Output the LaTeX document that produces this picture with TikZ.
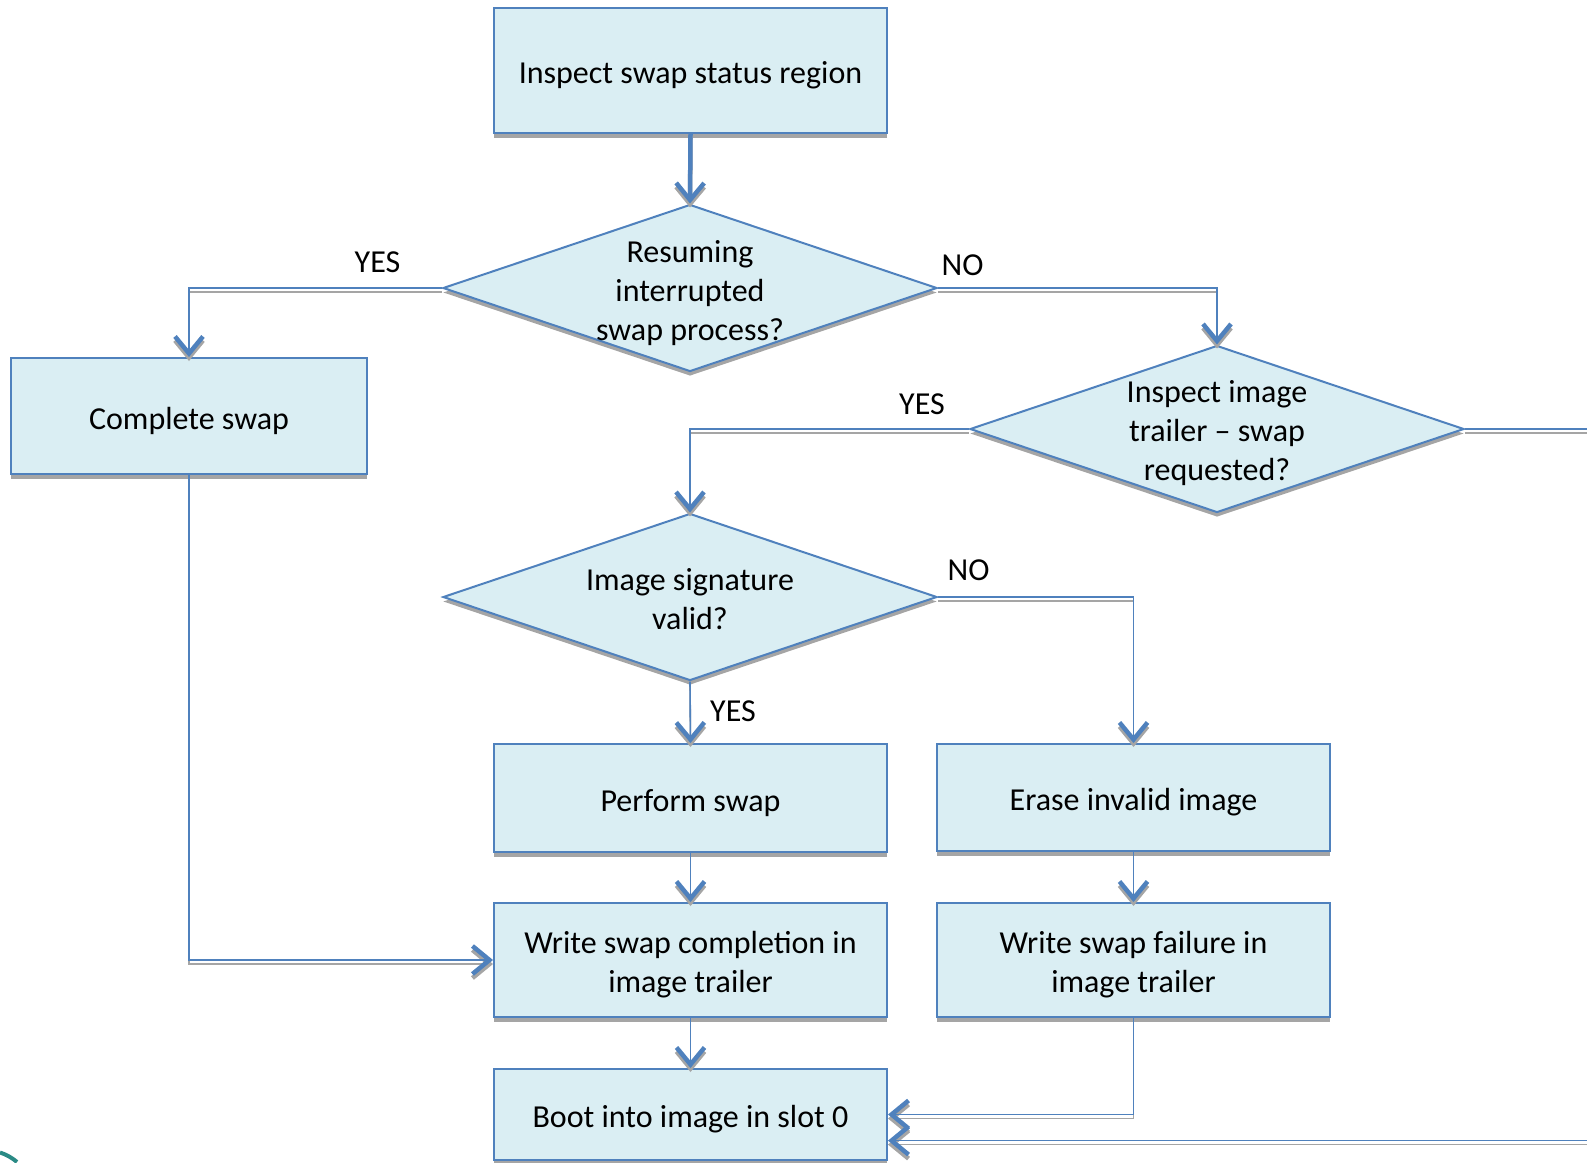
\documentclass[tikz,border=0pt]{standalone}
\usepackage{fontspec}
\setmainfont{Carlito}
\usetikzlibrary{shapes.geometric,arrows.meta,shadows}
\definecolor{bfill}{HTML}{DAEEF3}
\definecolor{bline}{HTML}{4F81BD}
\definecolor{sgray}{HTML}{A5A5A5}
\definecolor{logo}{HTML}{2A8A85}
\tikzset{
  every node/.style={font=\fontsize{32pt}{39pt}\selectfont},
  shd/.style={general shadow={fill=sgray, shadow yshift=-4.5pt, shadow xshift=0pt}},
  box/.style={draw=bline, line width=2pt, fill=bfill, inner sep=0pt, shd},
  dia/.style={diamond, draw=bline, line width=2pt, fill=bfill, minimum width=494pt, minimum height=167pt, inner sep=0pt, shd},
  txt/.style={align=center, inner sep=0pt},
  lnk/.style={draw=bline, line width=1.6pt, -{Straight Barb[length=17pt, width=28pt, line width'=4.5pt]}},
}
\newcommand\lk[2][]{\draw[lnk,draw=sgray,transform canvas={yshift=-4pt},#1] #2; \draw[lnk,#1] #2;}
\begin{document}
\begin{tikzpicture}[x=1pt,y=-1pt]
\useasboundingbox (0,0) rectangle (1587,1162);
% boxes
\node[box, minimum width=393pt, minimum height=125pt] (top) at (690.5,70.5) {};
\node[txt] (topt) at (690.5,75.5) {Inspect swap status region};
\node[dia] (d1) at (690,288) {};
\node[txt] (d1t) at (690,293) {Resuming\\interrupted\\swap process?};
\node[box, minimum width=356pt, minimum height=116pt] (complete) at (189,416) {};
\node[txt] (completet) at (189,421) {Complete swap};
\node[dia] (d2) at (1217,429) {};
\node[txt] (d2t) at (1217,433) {Inspect image\\trailer – swap\\requested?};
\node[dia] (d3) at (690,597) {};
\node[txt] (d3t) at (690,599.5) {Image signature\\valid?};
\node[box, minimum width=393pt, minimum height=108pt] (perform) at (690.5,798) {};
\node[txt] (performt) at (690.5,803) {Perform swap};
\node[box, minimum width=393pt, minimum height=107pt] (erase) at (1133.5,797.5) {};
\node[txt] (eraset) at (1133.5,802.5) {Erase invalid image};
\node[box, minimum width=393pt, minimum height=114pt] (wcomp) at (690.5,960) {};
\node[txt] (wcompt) at (690.5,965) {Write swap completion in\\image trailer};
\node[box, minimum width=393pt, minimum height=114pt] (wfail) at (1133.5,960) {};
\node[txt] (wfailt) at (1133.5,965) {Write swap failure in\\image trailer};
\node[box, minimum width=393pt, minimum height=91pt] (boot) at (690.5,1114.5) {};
\node[txt] (boott) at (690.5,1119.5) {Boot into image in slot 0};
% labels
\node (lyes1) at (377.5,262) {YES};
\node (lno1) at (962.5,265) {NO};
\node (lyes2) at (922,404) {YES};
\node (lno2) at (968.6,570) {NO};
\node (lyes3) at (733,711.5) {YES};
% free ends
\coordinate (re1) at (1590,429);
\coordinate (re2) at (1590,1140.6);
% connectors
\lk[line width=4.5pt]{(top.south) -- (d1.north)}
\lk{(d1.west) -| (complete.north)}
\lk{(d1.east) -| (d2.north)}
\lk{(d2.west) -| (d3.north)}
\lk[-]{(d2.east) -- (re1)}
\lk{(d3.east) -| (erase.north)}
\lk{(d3.south) -- (perform.north)}
\lk{(perform.south) -- (wcomp.north)}
\lk{(erase.south) -- (wfail.north)}
\lk{(wcomp.south) -- (boot.north)}
\lk{(complete.south) |- (wcomp.west)}
\lk{(wfail.south) |- (boot.east)}
\lk{(re2) -- (re2 -| boot.east)}
% logo fragment
\draw[logo, line width=4pt] (0,1152.5) .. controls (6,1154.5) and (11,1157) .. (17,1162);
\end{tikzpicture}
\end{document}
